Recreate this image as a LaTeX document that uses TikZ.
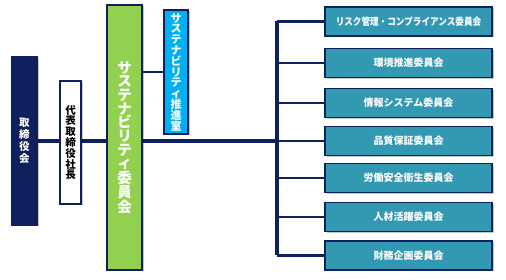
\documentclass[tikz,border=0pt]{standalone}
\usepackage{fontspec}
\usepackage{graphicx}
\setmainfont{Noto Sans CJK JP}
\usetikzlibrary{shadows,backgrounds}
\definecolor{navy}{HTML}{0F205C}
\definecolor{teal2}{HTML}{3399B2}
\definecolor{leaf}{HTML}{92D050}
\definecolor{sky}{HTML}{00B0F0}
\tikzset{
  shade/.style={drop shadow={shadow xshift=1.5pt,shadow yshift=-1.5pt,fill=black,opacity=0.22}},
  box/.style={draw=navy,line width=1.5pt,inner sep=0pt,shade,align=center,font=\bfseries},
  cbox/.style={box,fill=teal2,text=white,minimum width=167pt,minimum height=29pt,font=\bfseries\fontsize{10}{12}\selectfont},
  thick line/.style={draw=navy,line width=4pt},
  branch/.style={draw=navy,line width=2.5pt},
}
\begin{document}
\begin{tikzpicture}[x=1pt,y=-1pt]
\useasboundingbox (0,0) rectangle (506,280);
% left column
\node[box,fill=navy,text=white,minimum width=25pt,minimum height=168pt,
  font=\bfseries\fontsize{10.5}{12}\selectfont] (board) at (24.5,141) {取\\締\\役\\会};
\node[box,fill=white,text=black,minimum width=21pt,minimum height=123pt,
  font=\bfseries\fontsize{10.5}{10.8}\selectfont] (pres) at (70.5,142.5) {代\\表\\取\\締\\役\\社\\長};
\node[box,fill=leaf,text=white,minimum width=35pt,minimum height=265pt,
  font=\bfseries\fontsize{14.5}{13.7}\selectfont] (sus) at (124.5,137.5) {サ\\ス\\テ\\ナ\\ビ\\リ\\テ\\ィ\\委\\員\\会};
\node[box,fill=sky,text=white,minimum width=24pt,minimum height=124pt,
  font=\bfseries\fontsize{11}{10.8}\selectfont] (office) at (176,72) {サ\\ス\\テ\\ナ\\ビ\\リ\\テ\\ィ\\推\\進\\室};
% committees
\node[cbox] (c1) at (408.5,21.5) {\scalebox{0.86}[1]{リスク管理・コンプライアンス委員会}};
\node[cbox] (c2) at (408.5,63) {環境推進委員会};
\node[cbox] (c3) at (408.5,103) {情報システム委員会};
\node[cbox] (c4) at (408.5,141) {品質保証委員会};
\node[cbox] (c5) at (408.5,178) {労働安全衛生委員会};
\node[cbox] (c6) at (408.5,217) {人材活躍委員会};
\node[cbox] (c7) at (408.5,255.5) {財務企画委員会};
\coordinate (T) at (277,141);
\begin{pgfonlayer}{background}
\fill[white] (0,0) rectangle (506,280);
\draw[thick line] (board.east) -- (T);
\draw[thick line] (c1.west -| T) -- (c7.west -| T);
\foreach \i in {1,2,3,5,6,7} {\draw[branch] (c\i.west) -- (c\i.west -| T);}
\draw[branch] (c4.west) -- (T);
\draw[branch] (sus.east |- office.west) -- (office.west);
\end{pgfonlayer}
\end{tikzpicture}
\end{document}
